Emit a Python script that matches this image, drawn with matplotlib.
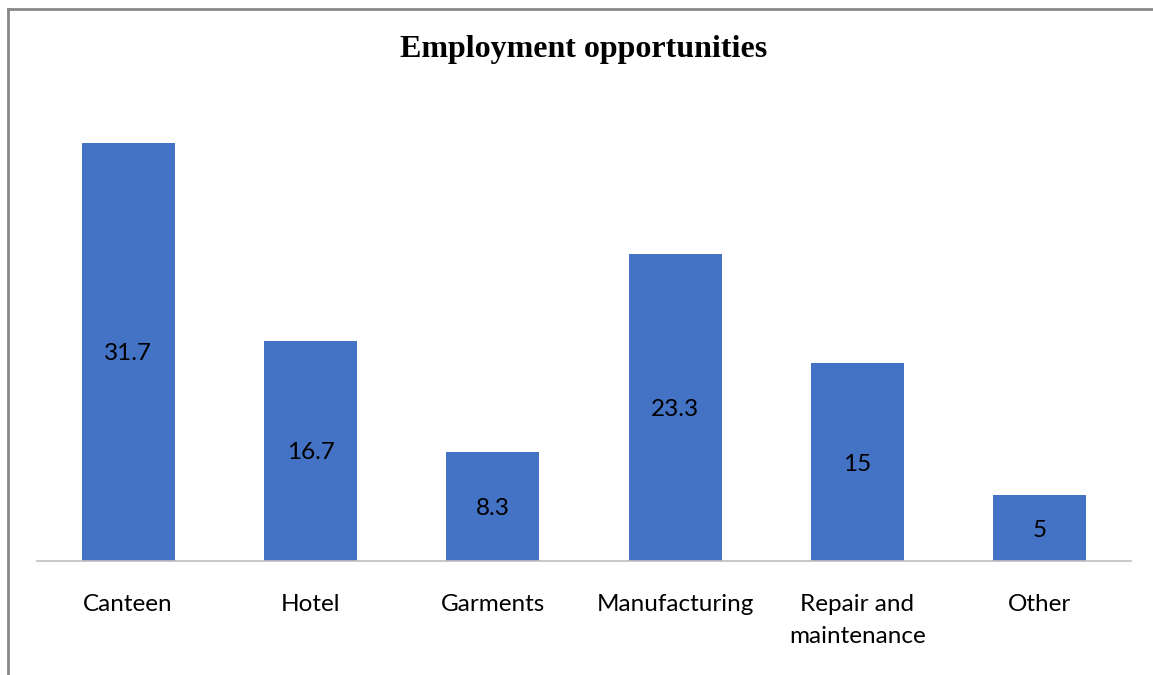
import matplotlib.pyplot as plt
from matplotlib.lines import Line2D

categories = ['Canteen', 'Hotel', 'Garments', 'Manufacturing', 'Repair and\nmaintenance', 'Other']
values = [31.7, 16.7, 8.3, 23.3, 15, 5]
value_labels = ['31.7', '16.7', '8.3', '23.3', '15', '5']

W, H = 1153, 675
fig = plt.figure(figsize=(W / 100, H / 100), dpi=100)
ax = fig.add_axes([37 / W, (H - 561) / H, (1131 - 37) / W, (561 - 99.4) / H])

x = range(len(categories))
bars = ax.bar(x, values, width=0.51, color='#4472C4')
for xi, v, lab in zip(x, values, value_labels):
    ax.text(xi, v / 2 - 0.15, lab, ha='center', va='center', fontsize=17.5, family='Lato', color='black')

ax.set_xlim(-0.5, len(categories) - 0.5)
ax.set_ylim(0, 35)
ax.set_yticks([])
ax.set_xticks(list(x))
ax.set_xticklabels(categories, fontsize=17.5, family='Lato', linespacing=1.6, va='top')
ax.tick_params(axis='x', length=0, pad=24)
for s in ['top', 'right', 'left']:
    ax.spines[s].set_visible(False)
ax.spines['bottom'].set_color('#BFBFBF')
ax.spines['bottom'].set_linewidth(1.2)

fig.text(584 / W, 1 - 50 / H, 'Employment opportunities', ha='center', va='center',
         fontsize=23, fontweight='bold', family='Liberation Serif')

# outer frame (left and top edges visible)
fig.add_artist(Line2D([7.5 / W, 7.5 / W], [0, 1 - 9 / H], color='#888888', lw=2))
fig.add_artist(Line2D([7.5 / W, 1], [1 - 9 / H, 1 - 9 / H], color='#888888', lw=2))

fig.savefig('out.png', dpi=100)
